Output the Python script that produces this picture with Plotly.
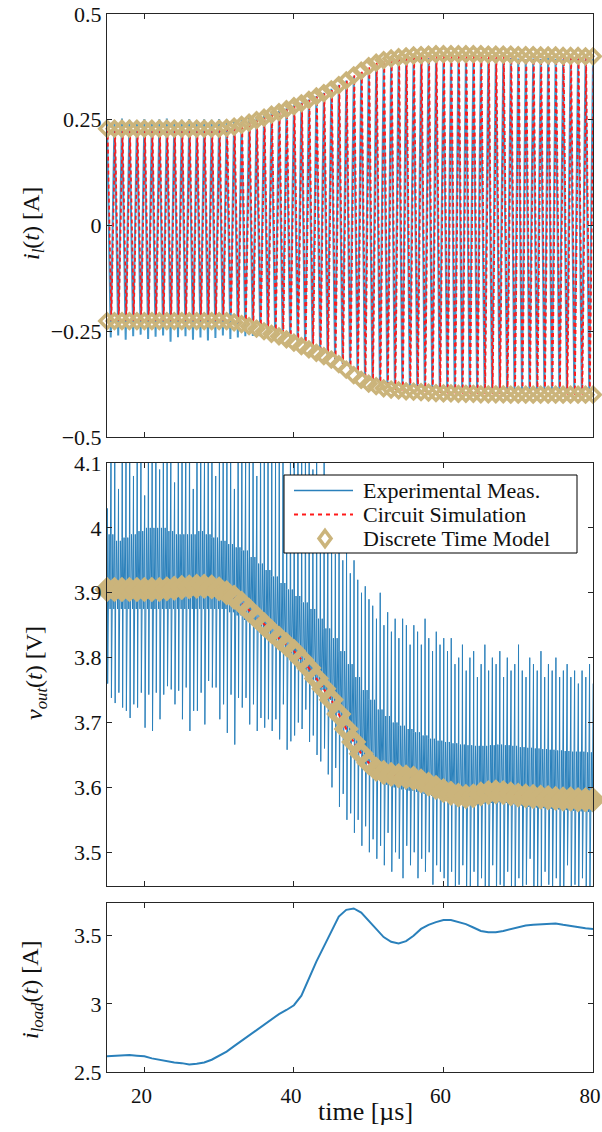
import numpy as np
import plotly.graph_objects as go

# ---------------------------------------------------------------- data
# switching period 1 us, one entry per cycle from 15 us to 80 us
t_cycle = np.arange(15, 81)

# inductor current: peak values per cycle [A]
il_model_hi = [0.229] * 15 + [
    0.229, 0.231, 0.234, 0.238, 0.243, 0.249, 0.255, 0.262, 0.268, 0.275,
    0.282, 0.289, 0.297, 0.305, 0.313, 0.322, 0.332, 0.343, 0.355, 0.366,
    0.377, 0.385, 0.391, 0.395, 0.398, 0.400, 0.402, 0.403, 0.404, 0.405,
    0.405, 0.405, 0.405, 0.405, 0.405, 0.405, 0.404, 0.404, 0.404, 0.404,
    0.403, 0.403, 0.403, 0.402, 0.402, 0.402, 0.401, 0.401, 0.401, 0.400,
    0.400]
il_model_lo = [-0.226] * 17 + [
    -0.229, -0.233, -0.238, -0.244, -0.250, -0.256, -0.262, -0.269, -0.277,
    -0.285, -0.293, -0.301, -0.309, -0.317, -0.328, -0.341, -0.354, -0.365,
    -0.374, -0.380, -0.385, -0.388, -0.390, -0.392, -0.393, -0.394, -0.395,
    -0.396, -0.397, -0.397, -0.398, -0.398, -0.398, -0.399,
    -0.399, -0.399, -0.399, -0.400, -0.400, -0.400, -0.400, -0.400, -0.400,
    -0.400, -0.400, -0.400, -0.400, -0.400, -0.400]
il_exp_hi = [
    0.252, 0.248, 0.253, 0.250, 0.249, 0.252, 0.247, 0.251, 0.253, 0.249,
    0.250, 0.252, 0.248, 0.251, 0.250, 0.252,
    0.250, 0.251, 0.252, 0.254, 0.257, 0.261, 0.266, 0.271, 0.277, 0.284,
    0.291, 0.298, 0.306, 0.314, 0.323, 0.333, 0.343, 0.353, 0.362, 0.371,
    0.378, 0.383, 0.387, 0.390, 0.392, 0.394,
    0.395, 0.396, 0.394, 0.396, 0.395, 0.397, 0.395, 0.396, 0.394, 0.396,
    0.395, 0.394, 0.396, 0.395, 0.393, 0.395, 0.394, 0.396, 0.394, 0.393,
    0.395, 0.394, 0.393, 0.394]
il_exp_lo = [
    -0.265, -0.260, -0.270, -0.262, -0.258, -0.268, -0.263, -0.260, -0.275,
    -0.264, -0.262, -0.270, -0.265, -0.272, -0.266, -0.260, -0.268,
    -0.265, -0.262, -0.261, -0.262, -0.265, -0.268, -0.272, -0.277, -0.283,
    -0.290, -0.297, -0.304, -0.311, -0.318, -0.327, -0.338, -0.350, -0.360,
    -0.368, -0.374, -0.379, -0.382, -0.384, -0.386, -0.387,
    -0.388, -0.387, -0.389, -0.388, -0.390, -0.388, -0.389, -0.387, -0.390,
    -0.388, -0.389, -0.390, -0.388, -0.389, -0.391, -0.389, -0.390, -0.388,
    -0.390, -0.391, -0.389, -0.390, -0.391, -0.390]

# output voltage, discrete time model per cycle [V]
vout_model = [3.905] * 8 + [
    3.906, 3.907, 3.908, 3.909, 3.910, 3.910, 3.909, 3.906, 3.900, 3.893,
    3.884, 3.873, 3.862, 3.851, 3.840, 3.830, 3.820, 3.810, 3.797, 3.784,
    3.768, 3.752, 3.735, 3.713, 3.690, 3.670, 3.652, 3.638, 3.628, 3.623,
    3.620, 3.618, 3.616, 3.614, 3.610, 3.605, 3.600, 3.595, 3.591, 3.588,
    3.586, 3.587, 3.590, 3.592, 3.593, 3.592, 3.590, 3.588, 3.587, 3.586,
    3.585, 3.584, 3.583, 3.582, 3.582, 3.581, 3.581, 3.581]

# measured output voltage: ripple band per cycle [V]
vout_core_hi = [
    3.990, 3.980, 3.985, 3.990, 3.995, 4.000, 4.000, 4.000, 3.995, 3.990,
    3.990, 3.990, 3.995, 3.990, 3.985, 3.980, 3.975, 3.970, 3.965, 3.955,
    3.945, 3.935, 3.925, 3.915, 3.905, 3.895, 3.885, 3.875, 3.860, 3.845,
    3.830, 3.810, 3.790, 3.770, 3.750, 3.735, 3.720, 3.710, 3.700, 3.695,
    3.690, 3.685, 3.680, 3.675, 3.672, 3.670, 3.668, 3.666, 3.665, 3.664,
    3.664, 3.665, 3.666, 3.665, 3.664, 3.662, 3.661, 3.660, 3.659, 3.658,
    3.657, 3.656, 3.655, 3.655, 3.654, 3.654]
vout_core_lo = [3.875] * 16 + [
    3.870, 3.865, 3.858, 3.850, 3.840, 3.830, 3.820, 3.810, 3.800, 3.790,
    3.778, 3.765, 3.750, 3.735, 3.715, 3.695, 3.675, 3.655, 3.637, 3.622,
    3.612, 3.604, 3.600, 3.597, 3.595, 3.593, 3.590, 3.587, 3.585, 3.583,
    3.580, 3.578, 3.576, 3.575, 3.575, 3.576, 3.577, 3.576, 3.574, 3.572,
    3.570, 3.569, 3.568, 3.567, 3.566, 3.565, 3.564, 3.563, 3.562, 3.562]

# measured output voltage: switching spikes, one pair per half cycle [V]
vout_spike_up = [
    4.03, 4.15, 4.20, 4.06, 4.20, 4.12, 4.20, 4.08, 4.20, 4.20,
    4.05, 4.20, 4.15, 4.20, 4.09, 4.20, 4.20, 4.12, 4.07, 4.20,
    4.20, 4.15, 4.20, 4.06, 4.20, 4.20, 4.11, 4.20, 4.20, 4.08,
    4.20, 4.14, 4.20, 4.20, 4.06, 4.20, 4.20, 4.10, 4.20, 4.20,
    4.08, 4.20, 4.16, 4.20, 4.20, 4.12, 4.20, 4.20, 4.07, 4.20,
    4.20,
    4.20, 4.12, 4.20, 4.15, 4.09, 4.20, 4.06, 4.12,
    4.00, 4.05, 3.96, 3.98, 3.95, 3.97, 3.93, 3.95, 3.92, 3.90, 3.91, 3.89,
    3.88, 3.86, 3.90, 3.85, 3.87, 3.84, 3.86, 3.83, 3.86, 3.85,
    3.82, 3.85, 3.84, 3.82, 3.86, 3.83, 3.81, 3.84, 3.82, 3.83,
    3.81, 3.83, 3.79, 3.80, 3.82, 3.78, 3.80, 3.81, 3.77, 3.79,
    3.82, 3.78, 3.80, 3.79, 3.81, 3.77, 3.80, 3.78, 3.79, 3.82,
    3.78, 3.77, 3.80, 3.79, 3.78, 3.81, 3.77, 3.79, 3.78, 3.80,
    3.77, 3.78, 3.79, 3.77, 3.78, 3.76, 3.78, 3.77, 3.79, 3.76]
vout_spike_dn = [
    3.760, 3.738, 3.730, 3.746, 3.723, 3.718, 3.707, 3.728, 3.723, 3.746,
    3.692, 3.743, 3.687, 3.746, 3.705, 3.743, 3.756, 3.751, 3.728, 3.749,
    3.705, 3.754, 3.687, 3.718, 3.718, 3.746, 3.697, 3.764, 3.754, 3.754,
    3.705, 3.728, 3.684, 3.743, 3.666, 3.738, 3.723, 3.738, 3.697, 3.728,
    3.687, 3.707, 3.692, 3.705, 3.687, 3.705, 3.674, 3.728, 3.658, 3.671,
    3.680,
    3.70, 3.69, 3.72, 3.67, 3.68, 3.65, 3.64, 3.66, 3.62, 3.60,
    3.63, 3.57, 3.59, 3.55, 3.56, 3.53, 3.55, 3.51, 3.54, 3.50,
    3.52, 3.49, 3.51, 3.48, 3.53, 3.47, 3.50, 3.49, 3.46, 3.51,
    3.48, 3.50, 3.46, 3.49, 3.47, 3.50, 3.45, 3.48, 3.47, 3.46,
    3.44, 3.47, 3.43, 3.45, 3.48, 3.43, 3.44, 3.47, 3.43, 3.46,
    3.43, 3.44, 3.48, 3.43, 3.45, 3.43, 3.47, 3.44, 3.43, 3.46,
    3.43, 3.45, 3.49, 3.43, 3.44, 3.43, 3.47, 3.45, 3.43, 3.46,
    3.43, 3.44, 3.48, 3.43, 3.45, 3.43, 3.46, 3.44, 3.43, 3.47]

# load current per cycle [A]
iload = [
    2.615, 2.620, 2.625, 2.625, 2.620, 2.615, 2.600, 2.590, 2.575, 2.570,
    2.565, 2.555, 2.560, 2.570, 2.590, 2.620, 2.650, 2.690, 2.730, 2.770,
    2.810, 2.850, 2.890, 2.925, 2.955, 2.990, 3.060, 3.190, 3.310, 3.420,
    3.530, 3.640, 3.690, 3.700, 3.670, 3.610, 3.550, 3.490, 3.455, 3.443,
    3.460, 3.500, 3.550, 3.580, 3.600, 3.615, 3.615, 3.600, 3.585, 3.560,
    3.535, 3.525, 3.525, 3.535, 3.550, 3.565, 3.575, 3.580, 3.585, 3.590,
    3.590, 3.580, 3.570, 3.560, 3.555, 3.550]

x_ticks = [20, 40, 60, 80]
il_ticks = [-0.5, -0.25, 0, 0.25, 0.5]
il_ticktext = ["\u22120.5", "\u22120.25", "0", "0.25", "0.5"]
vout_ticks = [3.5, 3.6, 3.7, 3.8, 3.9, 4.0, 4.1]
vout_ticktext = ["3.5", "3.6", "3.7", "3.8", "3.9", "4", "4.1"]
iload_ticks = [2.5, 3.0, 3.5]
iload_ticktext = ["2.5", "3", "3.5"]

legend_labels = ["Experimental Meas.", "Circuit Simulation", "Discrete Time Model"]

# ---------------------------------------------------------------- style
FONT = "Liberation Serif"
C_EXP = "#2a80bb"
C_EXP_IL = "#4597c9"
C_SIM = "#ff1a1a"
C_DTM = "#cbb47b"
AX = "#262626"
TXT = "#111111"

W, H = 602, 1132
ML, MR, MT, MB = 107, 9, 14, 60
PW, PH = W - ML - MR, H - MT - MB


def px_x(p):
    """pixel column -> paper x"""
    return (p - ML) / PW


def px_y(p):
    """pixel row -> paper y"""
    return (H - MB - p) / PH


# ---------------------------------------------------------------- waveforms
def triangle(hi, lo, shift=0.0):
    xs, ys = [], []
    for k, t in enumerate(t_cycle):
        xs += [t + shift, t + 0.5 + shift]
        ys += [hi[k], lo[k]]
    return xs, ys


il_exp_x, il_exp_y = triangle(il_exp_hi, il_exp_lo)
il_sim_x, il_sim_y = triangle(il_model_hi, il_model_lo, shift=0.08)

# measured output voltage: ripple band with a spike pair at every transition
vx, vy = [], []
for j in range(len(vout_spike_up)):
    t0 = 15 + 0.5 * j
    k = min(j // 2, len(t_cycle) - 1)
    hi, lo = vout_core_hi[k], vout_core_lo[k]
    vx += [t0, t0 + 0.04, t0 + 0.09, t0 + 0.15, t0 + 0.28, t0 + 0.41]
    vy += [hi, vout_spike_up[j], vout_spike_dn[j], lo, hi, lo]

fig = go.Figure()

# top panel: inductor current
fig.add_trace(go.Scatter(x=il_exp_x, y=il_exp_y, mode="lines",
                         line=dict(color=C_EXP_IL, width=2.0),
                         showlegend=False, xaxis="x", yaxis="y"))
fig.add_trace(go.Scatter(x=il_sim_x, y=il_sim_y, mode="lines",
                         line=dict(color=C_SIM, width=1.7, dash="4px,3px"),
                         showlegend=False, xaxis="x", yaxis="y"))
fig.add_trace(go.Scatter(x=list(t_cycle) + list(t_cycle),
                         y=il_model_hi + il_model_lo, mode="markers",
                         marker=dict(symbol="diamond-open", size=11,
                                     color=C_DTM, line=dict(width=3.5, color=C_DTM)),
                         cliponaxis=False, showlegend=False,
                         xaxis="x", yaxis="y"))

# middle panel: output voltage
fig.add_trace(go.Scatter(x=vx, y=vy, mode="lines",
                         line=dict(color=C_EXP, width=1),
                         showlegend=False, xaxis="x2", yaxis="y2"))
fig.add_trace(go.Scatter(x=t_cycle, y=vout_model, mode="lines",
                         line=dict(color=C_SIM, width=2, dash="4px,3px"),
                         showlegend=False, xaxis="x2", yaxis="y2"))
fig.add_trace(go.Scatter(x=t_cycle, y=vout_model, mode="markers",
                         marker=dict(symbol="diamond-open", size=13,
                                     color=C_DTM, line=dict(width=6, color=C_DTM)),
                         cliponaxis=False, showlegend=False,
                         xaxis="x2", yaxis="y2"))

# bottom panel: load current
fig.add_trace(go.Scatter(x=t_cycle, y=iload, mode="lines",
                         line=dict(color=C_EXP, width=2.0),
                         showlegend=False, xaxis="x3", yaxis="y3"))

# ---------------------------------------------------------------- legend box
box_l, box_r, box_t, box_b = 284, 577, 475, 553
row_y = [490.5, 514.5, 538.5]
shapes = [
    dict(type="rect", xref="paper", yref="paper",
         x0=px_x(box_l), x1=px_x(box_r), y0=px_y(box_b), y1=px_y(box_t),
         fillcolor="white", line=dict(color="black", width=1), layer="above"),
    dict(type="line", xref="paper", yref="paper",
         x0=px_x(294), x1=px_x(353), y0=px_y(row_y[0]), y1=px_y(row_y[0]),
         line=dict(color=C_EXP, width=1.5), layer="above"),
    dict(type="line", xref="paper", yref="paper",
         x0=px_x(294), x1=px_x(353), y0=px_y(row_y[1]), y1=px_y(row_y[1]),
         line=dict(color=C_SIM, width=2, dash="4px,4px"), layer="above"),
]
# diamond glyph for the model entry
cx, cy, hw, hh = 325, row_y[2], 6, 8
shapes.append(dict(
    type="path", xref="paper", yref="paper", layer="above",
    path=(f"M {px_x(cx)},{px_y(cy - hh)} L {px_x(cx + hw)},{px_y(cy)} "
          f"L {px_x(cx)},{px_y(cy + hh)} L {px_x(cx - hw)},{px_y(cy)} Z"),
    fillcolor="white", line=dict(color=C_DTM, width=3.5)))

annotations = [
    dict(text=lab, xref="paper", yref="paper", x=px_x(361), y=px_y(ry),
         xanchor="left", yanchor="middle", showarrow=False,
         font=dict(family=FONT, size=22, color=TXT))
    for lab, ry in zip(legend_labels, row_y)
]
annotations += [
    dict(text="<i>i<sub>l</sub></i>(<i>t</i>) [A]", xref="paper", yref="paper",
         x=px_x(33), y=px_y(224), xanchor="center", yanchor="middle",
         textangle=-90, showarrow=False, font=dict(family=FONT, size=24, color=TXT)),
    dict(text="<i>v<sub>out</sub></i>(<i>t</i>) [V]", xref="paper", yref="paper",
         x=px_x(36), y=px_y(673), xanchor="center", yanchor="middle",
         textangle=-90, showarrow=False, font=dict(family=FONT, size=24, color=TXT)),
    dict(text="<i>i<sub>load</sub></i>(<i>t</i>) [A]", xref="paper", yref="paper",
         x=px_x(32), y=px_y(990), xanchor="center", yanchor="middle",
         textangle=-90, showarrow=False, font=dict(family=FONT, size=24, color=TXT)),
    dict(text="time [\u00b5s]", xref="paper", yref="paper",
         x=px_x(365), y=px_y(1111), xanchor="center", yanchor="middle",
         showarrow=False, font=dict(family=FONT, size=26, color=TXT)),
]

axis_common = dict(showline=True, linecolor=AX, linewidth=1, mirror="ticks",
                   ticks="inside", ticklen=5, tickcolor=AX, showgrid=False,
                   zeroline=False, automargin=False,
                   tickfont=dict(family=FONT, size=22, color=TXT))

fig.update_layout(
    width=W, height=H,
    margin=dict(l=ML, r=MR, t=MT, b=MB, autoexpand=False),
    paper_bgcolor="white", plot_bgcolor="white",
    font=dict(family=FONT, color=TXT),
    showlegend=False,
    xaxis=dict(axis_common, range=[15, 80], tickvals=x_ticks, showticklabels=False,
               anchor="y"),
    xaxis2=dict(axis_common, range=[15, 80], tickvals=x_ticks, showticklabels=False,
                anchor="y2", matches="x"),
    xaxis3=dict(axis_common, range=[15, 80], tickvals=x_ticks, anchor="y3",
                matches="x", ticklabelstandoff=5, ticklabeloverflow="allow",
                ticklabelshift=-3,
                tickfont=dict(family=FONT, size=21, color=TXT)),
    yaxis=dict(axis_common, domain=[px_y(437), px_y(14)], range=[-0.5, 0.5],
               tickvals=il_ticks, ticktext=il_ticktext, anchor="x"),
    yaxis2=dict(axis_common, domain=[px_y(886), px_y(463)], range=[3.448, 4.1],
                tickvals=vout_ticks, ticktext=vout_ticktext, anchor="x2"),
    yaxis3=dict(axis_common, domain=[px_y(1072), px_y(903)], range=[2.5, 3.74],
                tickvals=iload_ticks, ticktext=iload_ticktext, anchor="x3"),
    shapes=shapes,
    annotations=annotations,
)

fig.write_html("out.html")
